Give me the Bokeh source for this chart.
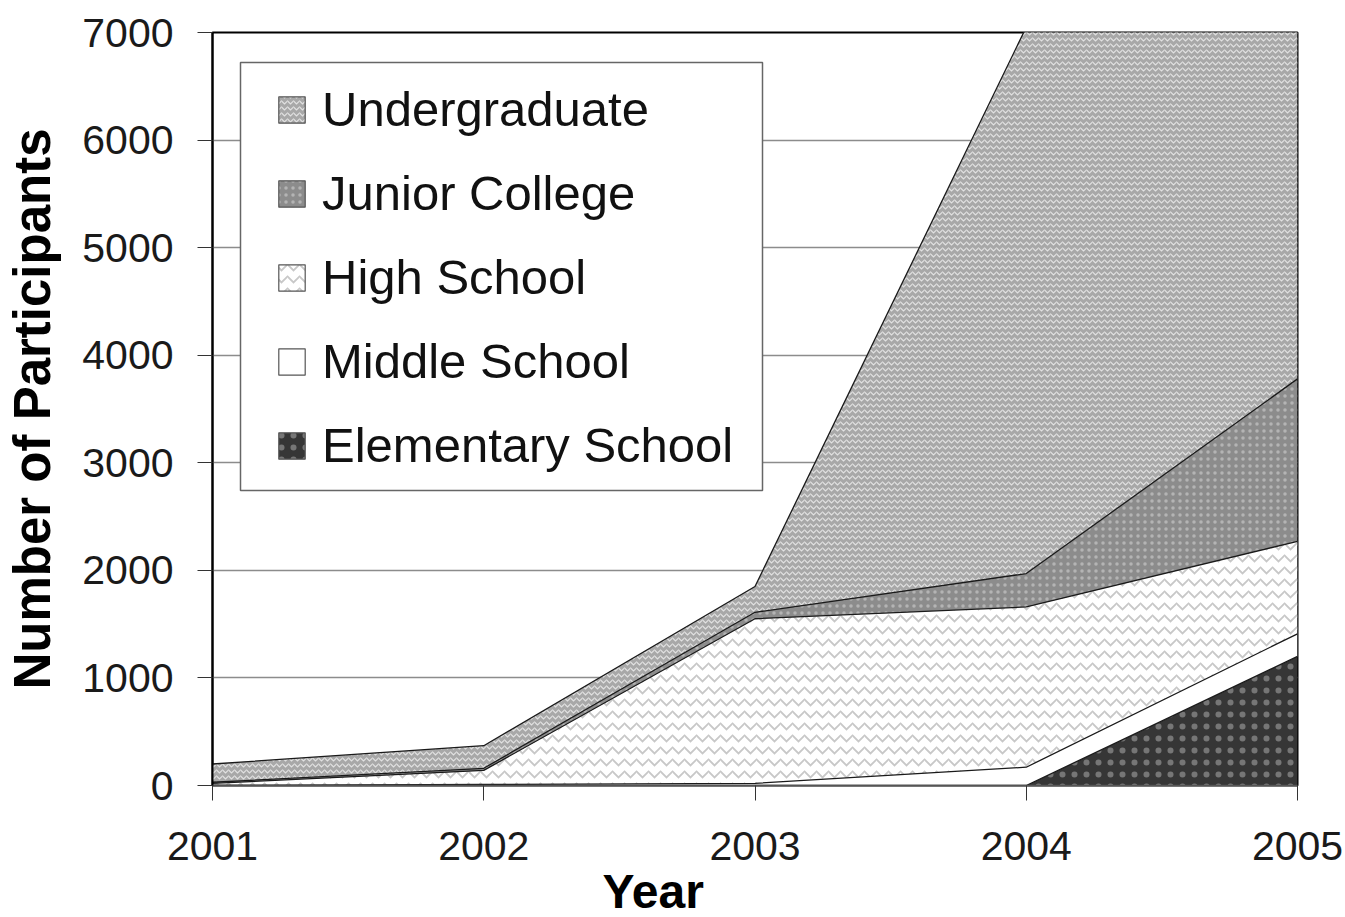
from bokeh.plotting import figure
from bokeh.models import (ColumnDataSource, Range1d, FixedTicker, Legend, LegendItem,
                          Title, BoxAnnotation)
from bokeh.embed import file_html
from bokeh.resources import INLINE

years = [2001, 2002, 2003, 2004, 2005]
elementary = [0, 0, 0, 0, 1200]
middle = [0, 10, 20, 170, 210]
high_school = [20, 130, 1530, 1490, 860]
junior_college = [10, 20, 60, 310, 1510]
undergraduate = [170, 210, 240, 5080, 3600]

series_names = ["Elementary School", "Middle School", "High School", "Junior College", "Undergraduate"]
keys = ["elem", "mid", "hs", "jc", "ug"]
y_ticks = [0, 1000, 2000, 3000, 4000, 5000, 6000, 7000]

styles = {
    "elem": dict(fill_color="#363636", hatch_pattern="dot", hatch_color="#767676", hatch_scale=12, hatch_weight=1.0),
    "mid": dict(fill_color="#ffffff"),
    "hs": dict(fill_color="#ffffff", hatch_pattern="horizontal_wave", hatch_color="#c8c8c8", hatch_scale=12, hatch_weight=1.8),
    "jc": dict(fill_color="#8c8c8c", hatch_pattern="dot", hatch_color="#b4b4b4", hatch_scale=7, hatch_weight=1.2),
    "ug": dict(fill_color="#a8a8a8", hatch_pattern="horizontal_wave", hatch_color="#e2e2e2", hatch_scale=6, hatch_weight=1.2),
}

src = ColumnDataSource(dict(x=years, elem=elementary, mid=middle, hs=high_school,
                            jc=junior_college, ug=undergraduate))

p = figure(frame_width=1085, frame_height=753,
           min_border_left=212, min_border_right=48, min_border_top=32, min_border_bottom=100,
           x_range=Range1d(2001, 2005), y_range=Range1d(0, 7000),
           output_backend="svg", toolbar_location=None)

# stacked areas (bottom to top)
rs = p.varea_stack(stackers=keys, x="x", source=src)
for r, k in zip(rs, keys):
    for a, v in styles[k].items():
        setattr(r.glyph, a, v)
# outline on top of each layer
p.vline_stack(stackers=keys, x="x", source=src, line_color="#1a1a1a", line_width=1.3)

# legend frame (screen units relative to the plot frame)
p.add_layout(BoxAnnotation(left=28, right=550, bottom=295, top=723,
                           left_units="screen", right_units="screen",
                           bottom_units="screen", top_units="screen",
                           fill_color="white", fill_alpha=1.0,
                           line_color="#666666", line_width=1.5, line_alpha=1.0))

# legend swatches (top to bottom); NaN geometry -> nothing drawn in the plot
nan = float("nan")
items = []
for k, name in reversed(list(zip(keys, series_names))):
    sw = p.quad(left=[nan], right=[nan], top=[nan], bottom=[nan],
                line_color="#555555", line_width=1.2, **styles[k])
    items.append(LegendItem(label=name, renderers=[sw]))

legend = Legend(items=items, location=(28, 277),
                label_text_font="Liberation Sans", label_text_font_size="49px",
                label_text_color="#111111",
                glyph_width=33, glyph_height=33, label_standoff=14,
                spacing=28, padding=35, margin=0,
                border_line_color="white", border_line_alpha=0.0,
                background_fill_alpha=0.0)
p.add_layout(legend)

p.xaxis.ticker = FixedTicker(ticks=years)
p.yaxis.ticker = FixedTicker(ticks=y_ticks)
p.yaxis.axis_label = "Number of Participants"
p.yaxis.axis_label_text_font = "Liberation Sans"
p.yaxis.axis_label_text_font_style = "bold"
p.yaxis.axis_label_text_font_size = "51px"
p.yaxis.axis_label_text_color = "black"
p.yaxis.axis_label_standoff = 18
for ax in (p.xaxis, p.yaxis):
    ax.major_label_text_font = "Liberation Sans"
    ax.major_label_text_font_size = "41px"
    ax.major_label_text_color = "#1a1a1a"
    ax.major_tick_out = 15
    ax.major_tick_in = 0
    ax.minor_tick_line_color = None
    ax.major_tick_line_color = "#333333"
p.yaxis.major_label_standoff = 24
p.xaxis.major_label_standoff = 31
p.yaxis.axis_line_color = "black"
p.yaxis.axis_line_width = 2
p.xaxis.axis_line_color = "#555555"
p.xaxis.axis_line_width = 1.5

p.add_layout(Title(text="Year", align="left", offset=390, standoff=0,
                   text_font="Liberation Sans", text_font_style="bold",
                   text_font_size="48px", text_color="black"), "below")

p.xgrid.grid_line_color = None
p.ygrid.grid_line_color = "#8c8c8c"
p.ygrid.grid_line_width = 1.3
p.outline_line_color = "black"
p.outline_line_width = 2
p.background_fill_color = "white"
p.border_fill_color = "white"

open("out.html", "w").write(file_html(p, INLINE))
